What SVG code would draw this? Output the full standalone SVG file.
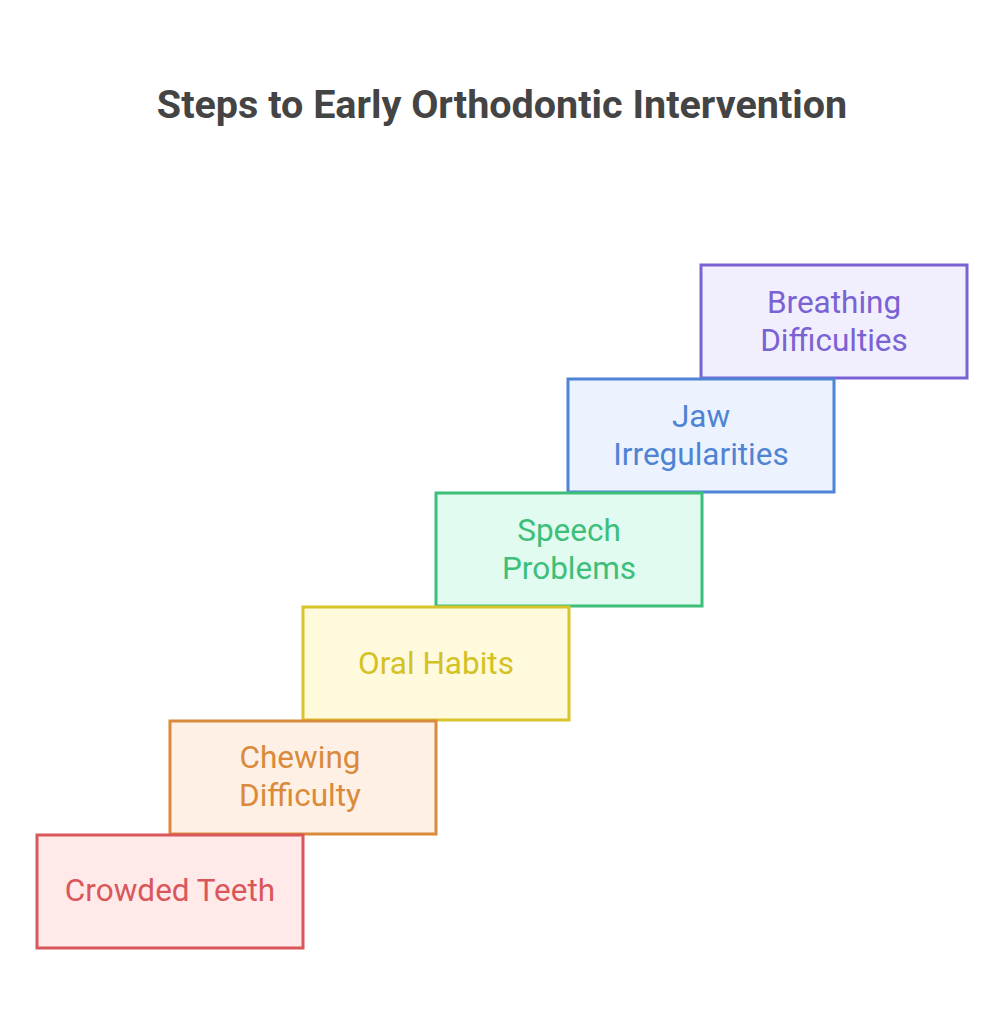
<svg xmlns="http://www.w3.org/2000/svg" width="1005" height="1024" viewBox="0 0 1005 1024">
<style>
.t{font-family:Roboto,"Liberation Sans",sans-serif;font-size:31.5px;text-anchor:middle}
.box{stroke-width:3}
</style>
<rect width="1005" height="1024" fill="#ffffff"/>
<text x="502" y="118" font-family="Roboto,'Liberation Sans',sans-serif" font-size="39.5" font-weight="bold" fill="#444444" text-anchor="middle">Steps to Early Orthodontic Intervention</text>
<g id="connectors"></g>
<g id="breathing">
<rect class="box" x="701" y="265" width="266" height="113" fill="#f1effd" stroke="#7b62d4"/>
<text class="t" fill="#7b62d4"><tspan x="834" y="313">Breathing</tspan><tspan x="834" y="351">Difficulties</tspan></text>
</g>
<g id="jaw">
<rect class="box" x="568" y="379" width="266" height="113" fill="#ecf3fe" stroke="#4f83d4"/>
<text class="t" fill="#4f83d4"><tspan x="701" y="427">Jaw</tspan><tspan x="701" y="465">Irregularities</tspan></text>
</g>
<g id="speech">
<rect class="box" x="436" y="493" width="266" height="113" fill="#e2fbf0" stroke="#3dbf7a"/>
<text class="t" fill="#3dbf7a"><tspan x="569" y="541">Speech</tspan><tspan x="569" y="579">Problems</tspan></text>
</g>
<g id="oral">
<rect class="box" x="303" y="607" width="266" height="113" fill="#fffadc" stroke="#d9c52b"/>
<text class="t" fill="#d4c123" x="436" y="674">Oral Habits</text>
</g>
<g id="chewing">
<rect class="box" x="170" y="721" width="266" height="113" fill="#fff0e5" stroke="#d98a3a"/>
<text class="t" fill="#d98a3a"><tspan x="300" y="768">Chewing</tspan><tspan x="300" y="806">Difficulty</tspan></text>
</g>
<g id="crowded">
<rect class="box" x="37" y="835" width="266" height="113" fill="#ffe9e9" stroke="#d9575a"/>
<text class="t" fill="#d9575a" x="170" y="901">Crowded Teeth</text>
</g>
</svg>
